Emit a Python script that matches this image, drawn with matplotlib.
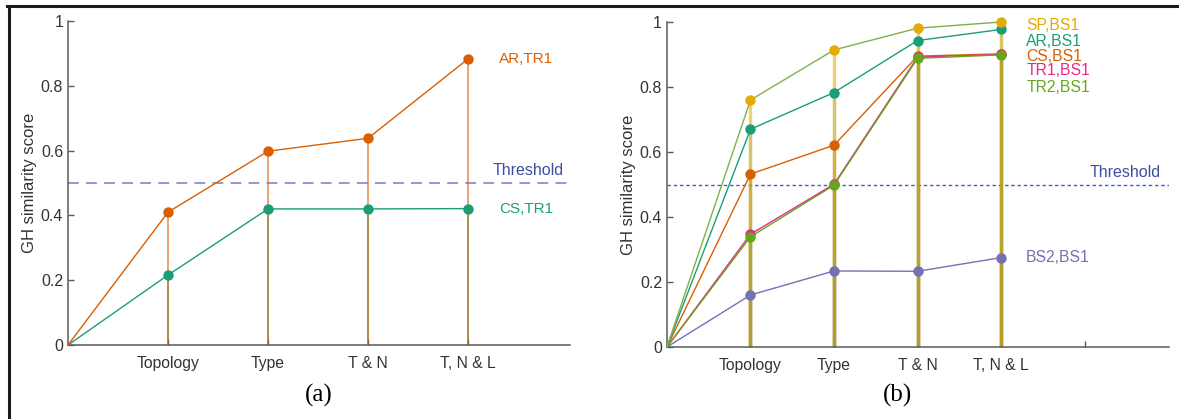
import numpy as np
import matplotlib
matplotlib.use('Agg')
import matplotlib.pyplot as plt
from matplotlib.lines import Line2D

plt.rcParams['font.family'] = ['Liberation Sans', 'DejaVu Sans']

stages = ['Topology', 'Type', 'T & N', 'T, N & L']
threshold = 0.5

# panel (a): scores against TR1
ar_tr1 = [0, 0.41, 0.598, 0.638, 0.883]
cs_tr1 = [0, 0.216, 0.420, 0.420, 0.421]

# panel (b): scores against BS1
sp_bs1 = [0, 0.760, 0.914, 0.981, 1.0]
ar_bs1 = [0, 0.670, 0.783, 0.943, 0.977]
cs_bs1 = [0, 0.532, 0.621, 0.895, 0.902]
tr1_bs1 = [0, 0.347, 0.501, 0.892, 0.900]
tr2_bs1 = [0, 0.339, 0.498, 0.888, 0.899]
bs2_bs1 = [0, 0.160, 0.234, 0.233, 0.275]

orange = '#d95f02'
teal = '#1b9e77'
purple = '#7570b3'
pink = '#e7298a'
green = '#66a61e'
yellow = '#e6ab02'
lgreen = '#7fb14a'

fig = plt.figure(figsize=(11.79, 4.19), dpi=100)


def style_axes(ax, xmax, nticks):
    ax.set_xlim(0, xmax)
    ax.set_ylim(0, 1)
    for s in ['top', 'right']:
        ax.spines[s].set_visible(False)
    for s in ['left', 'bottom']:
        ax.spines[s].set_color('#5a5a5a')
        ax.spines[s].set_linewidth(1.1)
    ax.set_xticks(np.arange(1, nticks + 1))
    ax.set_xticklabels(stages + [''] * (nticks - len(stages)))
    ax.set_yticks([0, 0.2, 0.4, 0.6, 0.8, 1])
    ax.set_yticklabels(['0', '0.2', '0.4', '0.6', '0.8', '1'])
    ax.tick_params(direction='in', length=4, width=1, colors='#5a5a5a',
                   labelcolor='#333333', labelsize=11.5)
    ax.tick_params(axis='x', pad=8, labelsize=11.3)
    ax.set_ylabel('GH similarity score', fontsize=12, color='#333333', labelpad=3)


def draw_series(ax, vals, color, mcolor=None, stem_alpha=0.55, stem_lw=1.3):
    x = np.arange(len(vals))
    mcolor = mcolor or color
    for xi, yi in zip(x[1:], vals[1:]):
        ax.plot([xi, xi], [0, yi], color=mcolor, lw=stem_lw, alpha=stem_alpha,
                zorder=2, solid_capstyle='butt')
    ax.plot(x, vals, color=color, lw=1.0, zorder=3, clip_on=False)
    ax.plot(x[1:], vals[1:], 'o', color=mcolor, ms=7.5, mec='none', zorder=4,
            clip_on=False)


# (a)
ax1 = fig.add_axes([0.0577, 0.1766, 0.4258, 0.7733])
style_axes(ax1, 5.02, 4)
draw_series(ax1, cs_tr1, teal, stem_alpha=0.6)
draw_series(ax1, ar_tr1, orange, stem_alpha=0.6)
ax1.axhline(threshold, color='#8a90cc', lw=1.3, ls=(0, (6, 4)), zorder=1)
ax1.text(4.6, threshold + 0.015, 'Threshold', color='#3d4fa0', fontsize=11.5,
         ha='center', va='bottom')
ax1.text(4.31, ar_tr1[-1], 'AR,TR1', color=orange, fontsize=11, va='center')
ax1.text(4.31, cs_tr1[-1], 'CS,TR1', color=teal, fontsize=11, va='center')

# (b)
ax2 = fig.add_axes([0.5657, 0.1718, 0.4258, 0.7757])
style_axes(ax2, 6.01, 5)
draw_series(ax2, bs2_bs1, purple, stem_alpha=0.5, stem_lw=2.4)
draw_series(ax2, cs_bs1, orange, stem_alpha=0.4, stem_lw=2.4)
draw_series(ax2, tr1_bs1, pink, stem_alpha=0.3, stem_lw=2.4)
draw_series(ax2, tr2_bs1, green, stem_alpha=0.5, stem_lw=2.4)
draw_series(ax2, ar_bs1, teal, stem_alpha=0.25, stem_lw=2.4)
draw_series(ax2, sp_bs1, lgreen, mcolor=yellow, stem_alpha=0.55, stem_lw=2.4)
ax2.axhline(threshold, color='#4a5bd0', lw=1.0, ls=(0, (2.5, 2)), zorder=1)
ax2.text(5.91, threshold + 0.015, 'Threshold', color='#3d4fa0', fontsize=11.5,
         ha='right', va='bottom')
labels_b = [('SP,BS1', yellow, 0.99), ('AR,BS1', teal, 0.939),
            ('CS,BS1', orange, 0.895), ('TR1,BS1', pink, 0.85),
            ('TR2,BS1', green, 0.80), ('BS2,BS1', purple, bs2_bs1[-1])]
for txt, c, y in labels_b:
    ax2.text(4.3, y, txt, color=c, fontsize=11.3, va='center')

# captions
fig.text(319 / 1179, 1 - 395 / 419, '(a)', family='Liberation Serif',
         fontsize=18, ha='center', va='center')
fig.text(897 / 1179, 1 - 395 / 419, '(b)', family='Liberation Serif',
         fontsize=18, ha='center', va='center')

# outer frame
fig.add_artist(Line2D([8.5 / 1179, 8.5 / 1179], [0, 1 - 5.7 / 419], color='#1a1a1a',
                      lw=2.2, transform=fig.transFigure))
fig.add_artist(Line2D([7 / 1179, 1], [1 - 5.7 / 419, 1 - 5.7 / 419], color='#1a1a1a',
                      lw=2.2, transform=fig.transFigure))

fig.savefig('out.png', dpi=100)
